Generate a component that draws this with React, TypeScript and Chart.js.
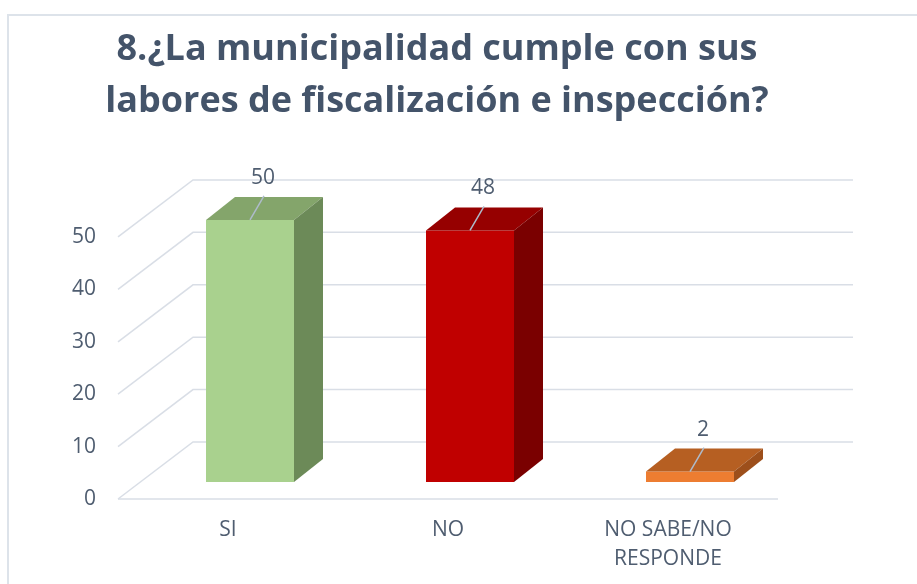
import React, { useEffect, useRef } from 'react';
import { Chart, registerables } from 'chart.js';

Chart.register(...registerables);

// ---- data ----
const categories: (string | string[])[] = ['SI', 'NO', ['NO SABE/NO', 'RESPONDE']];
const values: number[] = [50, 48, 2];
const yTickStep = 10;
const yMax = 50;
const titleLines: string[] = ['8.¿La municipalidad cumple con sus', 'labores de fiscalización e inspección?'];

// ---- styles ----
const frontColors = ['#A9D18E', '#C00000', '#ED7D31'];
const topColors = ['#84A56B', '#960000', '#B65F22'];
const sideColors = ['#6C8A58', '#7A0000', '#9D4F1B'];
const textColor = '#4F5D70';
const gridColor = '#D9DEE6';
const FONT = "'Open Sans'";

// 3D geometry offsets (relative to the bar plane)
const FLOOR_FRONT = { dx: -22, dy: 17 };
const FLOOR_BACK = { dx: 53, dy: -40 };
const BAR_DEPTH = { dx: 29, dy: -23 };

const threeD = {
  id: 'threeD',
  beforeDraw(chart: any) {
    const { ctx, width, height } = chart;
    ctx.save();
    ctx.fillStyle = '#ffffff';
    ctx.fillRect(0, 0, width, height);
    ctx.strokeStyle = '#DDE3EA';
    ctx.lineWidth = 2;
    ctx.strokeRect(8, 15, width + 20, height + 20);
    ctx.restore();
  },
  beforeDatasetsDraw(chart: any) {
    const { ctx, chartArea: a, scales } = chart;
    const y = scales.y;
    ctx.save();
    ctx.strokeStyle = gridColor;
    ctx.lineWidth = 1.5;
    y.ticks.forEach((t: any) => {
      const py = y.getPixelForValue(t.value);
      ctx.beginPath();
      ctx.moveTo(a.left + FLOOR_FRONT.dx, py + FLOOR_FRONT.dy);
      ctx.lineTo(a.left + FLOOR_BACK.dx, py + FLOOR_BACK.dy);
      ctx.lineTo(a.right + FLOOR_BACK.dx, py + FLOOR_BACK.dy);
      ctx.stroke();
    });
    const p0 = y.getPixelForValue(0);
    ctx.beginPath();
    ctx.moveTo(a.left + FLOOR_FRONT.dx, p0 + FLOOR_FRONT.dy);
    ctx.lineTo(a.right + FLOOR_FRONT.dx, p0 + FLOOR_FRONT.dy);
    ctx.stroke();
    ctx.restore();
  },
  afterDatasetsDraw(chart: any) {
    const { ctx } = chart;
    const meta = chart.getDatasetMeta(0);
    ctx.save();
    meta.data.forEach((bar: any, i: number) => {
      const { x, y: top, base, width } = bar.getProps(['x', 'y', 'base', 'width'], true);
      const l = x - width / 2;
      const r = x + width / 2;
      const { dx, dy } = BAR_DEPTH;
      ctx.fillStyle = topColors[i];
      ctx.beginPath();
      ctx.moveTo(l, top);
      ctx.lineTo(l + dx, top + dy);
      ctx.lineTo(r + dx, top + dy);
      ctx.lineTo(r, top);
      ctx.closePath();
      ctx.fill();
      ctx.fillStyle = sideColors[i];
      ctx.beginPath();
      ctx.moveTo(r, top);
      ctx.lineTo(r + dx, top + dy);
      ctx.lineTo(r + dx, base + dy);
      ctx.lineTo(r, base);
      ctx.closePath();
      ctx.fill();
      // leader line
      ctx.strokeStyle = '#AEBBCB';
      ctx.lineWidth = 1.5;
      ctx.beginPath();
      ctx.moveTo(x + 14, top - 24);
      ctx.lineTo(x, top);
      ctx.stroke();
      // data label
      ctx.fillStyle = textColor;
      ctx.font = `21px ${FONT}`;
      ctx.textAlign = 'center';
      ctx.textBaseline = 'middle';
      ctx.fillText(String(values[i]), x + 13, top - 42);
    });
    ctx.restore();
  },
};

export default function App() {
  const ref = useRef<HTMLCanvasElement | null>(null);
  useEffect(() => {
    if (!ref.current) return;
    const chart = new Chart(ref.current, {
      type: 'bar',
      data: {
        labels: categories as any,
        datasets: [
          {
            data: values,
            backgroundColor: frontColors,
            borderWidth: 0,
            categoryPercentage: 1,
            barPercentage: 0.4,
          },
        ],
      },
      options: {
        responsive: false,
        animation: false,
        devicePixelRatio: 1,
        layout: { padding: { left: 0, right: 43, top: 0, bottom: 0 } },
        plugins: {
          legend: { display: false },
          tooltip: { enabled: false },
          title: {
            display: true,
            text: titleLines,
            color: '#44546A',
            font: { family: FONT, size: 36, weight: 'bold', lineHeight: 1.444 },
            padding: { top: 24, bottom: 92 },
          },
        },
        scales: {
          x: {
            grid: { display: false, drawTicks: false },
            border: { display: false },
            ticks: {
              color: textColor,
              font: { family: FONT, size: 21, lineHeight: 1.38 },
              padding: 33.5,
              labelOffset: FLOOR_FRONT.dx,
              maxRotation: 0,
              autoSkip: false,
            },
            afterFit: (s: any) => {
              s.height = 102;
            },
          },
          y: {
            min: 0,
            max: yMax,
            grid: { display: false, drawTicks: false },
            border: { display: false },
            ticks: {
              stepSize: yTickStep,
              color: textColor,
              font: { family: FONT, size: 21 },
              padding: 44,
              labelOffset: FLOOR_FRONT.dy,
            },
            afterFit: (s: any) => {
              s.width = 140;
            },
          },
          y2: {
            position: 'right',
            grid: { display: false, drawTicks: false },
            border: { display: false },
            ticks: { display: false },
            afterFit: (s: any) => {
              s.width = 74;
            },
          },
        },
      } as any,
      plugins: [threeD],
    });
    return () => chart.destroy();
  }, []);
  return (
    <div style={{ position: 'absolute', left: 0, top: 0, width: 917, height: 584 }}>
      <canvas ref={ref} width={917} height={584} style={{ display: 'block' }} />
    </div>
  );
}
